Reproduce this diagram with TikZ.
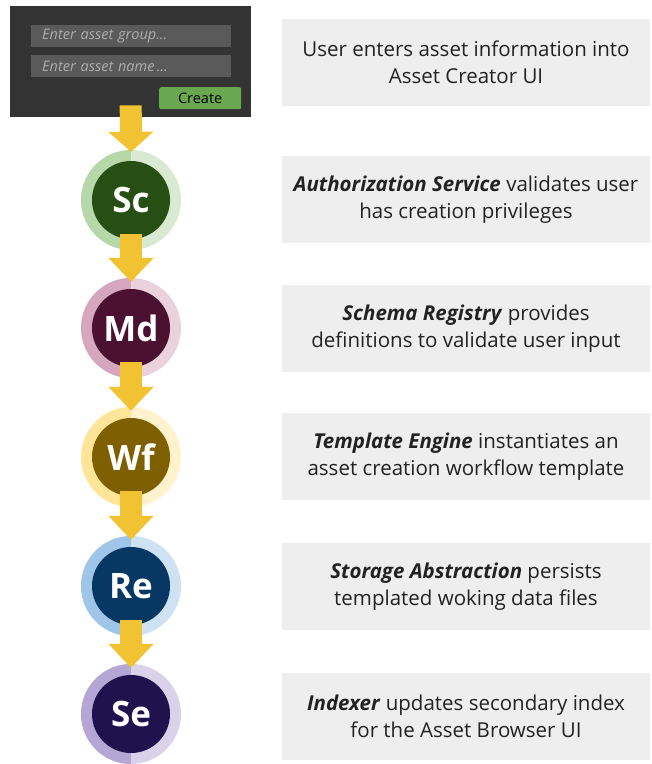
\documentclass[tikz,border=0pt]{standalone}
\usepackage{fontspec}
\setmainfont{Open Sans}
\usetikzlibrary{arrows.meta,calc}

% palette
\definecolor{panelbg}{HTML}{333333}
\definecolor{fieldbg}{HTML}{5A5A5A}
\definecolor{fieldtx}{HTML}{AEAEAE}
\definecolor{btngreen}{HTML}{6AA84F}
\definecolor{flow}{HTML}{F1C232}
\definecolor{boxbg}{HTML}{EEEEEE}
\definecolor{boxtx}{HTML}{222222}
\definecolor{scL}{HTML}{B6D7A8}\definecolor{scR}{HTML}{D9EAD3}\definecolor{scC}{HTML}{274E13}
\definecolor{mdL}{HTML}{D5A6BD}\definecolor{mdR}{HTML}{EAD1DC}\definecolor{mdC}{HTML}{4C1130}
\definecolor{wfL}{HTML}{FFE599}\definecolor{wfR}{HTML}{FFF2CC}\definecolor{wfC}{HTML}{7F6000}
\definecolor{reL}{HTML}{9FC5E8}\definecolor{reR}{HTML}{CFE2F3}\definecolor{reC}{HTML}{073763}
\definecolor{seL}{HTML}{B4A7D6}\definecolor{seR}{HTML}{D9D2E9}\definecolor{seC}{HTML}{20124D}

\tikzset{
  ring/.style 2 args={circle, minimum size=100pt, inner sep=0pt, fill=#2,
    path picture={\fill[#1] (path picture bounding box.south west) rectangle (path picture bounding box.north);}},
  core/.style={circle, minimum size=78pt, inner sep=0pt, fill=#1, text=white,
    font=\fontsize{35}{35}\selectfont\bfseries},
  flowarrow/.style={draw=flow, line width=22pt,
    -{Triangle[length=#1, width=44pt]}},
  flowarrow/.default=24pt,
  infobox/.style={rectangle, fill=boxbg, text=boxtx, minimum width=368pt, minimum height=87pt,
    inner sep=0pt, align=center, font=\fontsize{20.5}{27}\selectfont},
  field/.style={rectangle, fill=fieldbg, text=fieldtx, minimum width=200pt, minimum height=22pt,
    inner sep=0pt, inner xsep=11pt, text width=178pt, align=left, font=\fontsize{14.5}{14.5}\selectfont\itshape},
}

\begin{document}
\begin{tikzpicture}[x=1pt, y=-1pt]
\useasboundingbox (0,0) rectangle (652,764);

% asset creator form
\node[rectangle, fill=panelbg, minimum width=241pt, minimum height=111pt, inner sep=0pt, anchor=north west] (panel) at (10,6) {};
\node[field, anchor=north west] (group) at (31,25) {Enter asset group...};
\node[field, anchor=north west] (name) at (31,55) {Enter asset name\,\ldots};
\node[rectangle, rounded corners=2pt, fill=btngreen, minimum width=82pt, minimum height=22pt, inner sep=0pt,
  anchor=north west, font=\fontsize{14.5}{14.5}\selectfont] (create) at (159,87) {Create};

% service stages
\node[ring={scL}{scR}] (sc) at (131,200) {};
\node[ring={mdL}{mdR}] (md) at (131,328) {};
\node[ring={wfL}{wfR}] (wf) at (131,457) {};
\node[ring={reL}{reR}] (re) at (131,586) {};
\node[ring={seL}{seR}] (se) at (131,714) {};
\node[core=scC] (scc) at (sc) {Sc};
\node[core=mdC] (mdc) at (md) {Md};
\node[core=wfC] (wfc) at (wf) {Wf};
\node[core=reC] (rec) at (re) {Re};
\node[core=seC] (sec) at (se) {Se};

% flow arrows
\draw[flowarrow=20pt] ([yshift=12pt]panel.south) -- ([yshift=-2pt]sc.north);
\draw[flowarrow] ([yshift=-34pt]sc.center) -- ([yshift=-4pt]md.north);
\draw[flowarrow] ([yshift=-34pt]md.center) -- ([yshift=-4pt]wf.north);
\draw[flowarrow] ([yshift=-34pt]wf.center) -- ([yshift=-4pt]re.north);
\draw[flowarrow] ([yshift=-34pt]re.center) -- ([yshift=-4pt]se.north);

% descriptions
\node[infobox] (d0) at (466,62) {User enters asset information into\\Asset Creator UI};
\node[infobox] (d1) at (466,199.5) {\textbf{\textit{Authorization Service}} validates user\\has creation privileges};
\node[infobox] (d2) at (466,328.5) {\textbf{\textit{Schema Registry}} provides\\definitions to validate user input};
\node[infobox] (d3) at (466,456.5) {\textbf{\textit{Template Engine}} instantiates an\\asset creation workflow template};
\node[infobox] (d4) at (466,586.5) {\textbf{\textit{Storage Abstraction}} persists\\templated woking data files};
\node[infobox] (d5) at (466,716) {\textbf{\textit{Indexer}} updates secondary index\\for the Asset Browser UI};
\end{tikzpicture}
\end{document}
